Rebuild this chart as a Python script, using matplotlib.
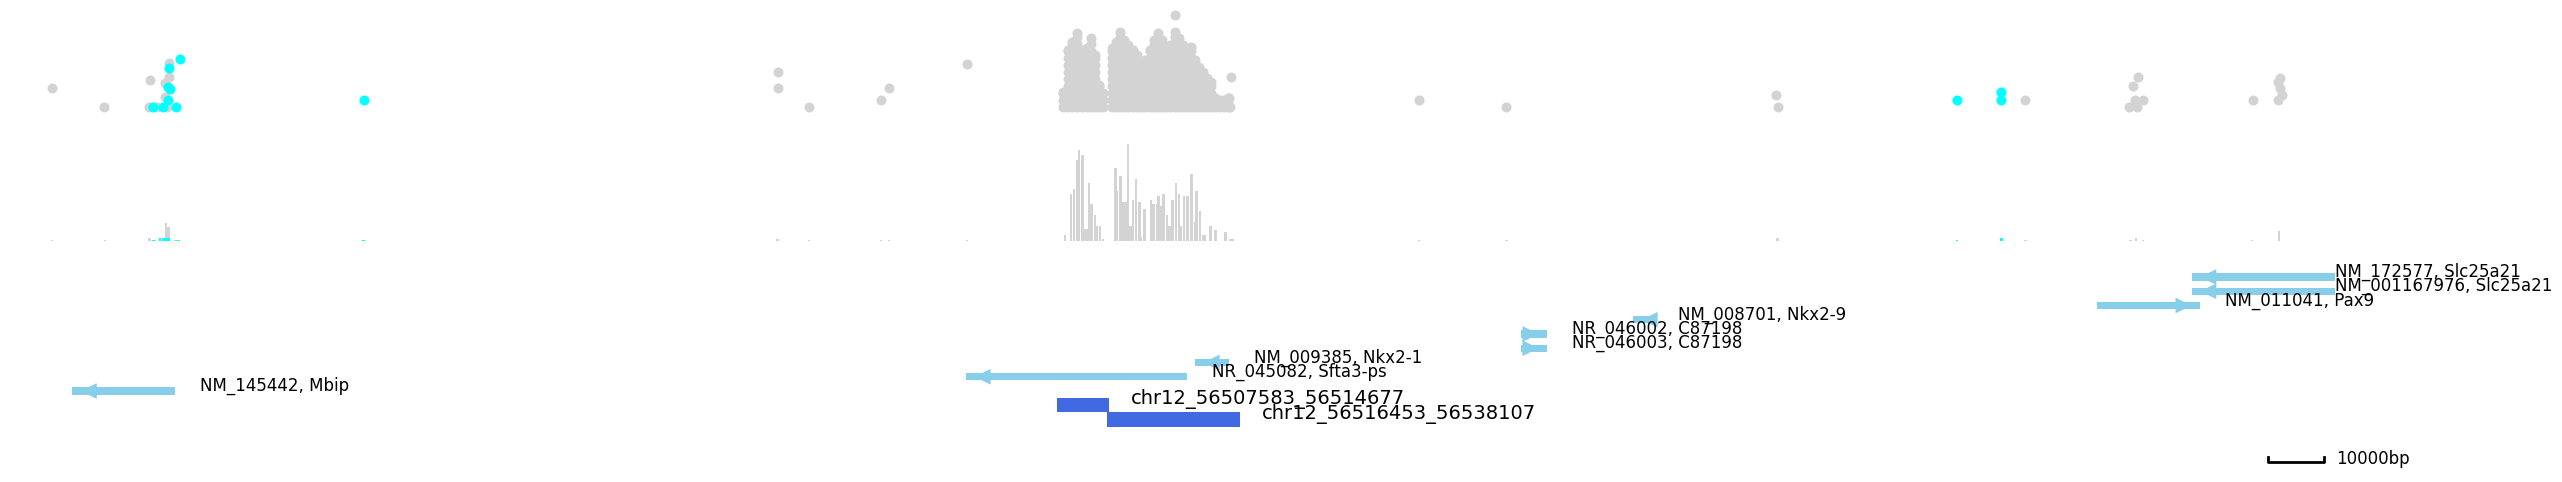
import matplotlib
matplotlib.use("Agg")
import matplotlib.pyplot as plt
from matplotlib.patches import Polygon
import numpy as np

# -----------------------------------------------------------------------------
# Locus window (chr12)
# -----------------------------------------------------------------------------
view_start = 56318380
view_end = 56736300          # right edge of the gene window
plot_right = 56776978        # extra room on the right for the labels

# --- dot track: isolated sites (position, score) ---
grey_pos = [56327700, 56337000, 56345200, 56345100, 56346500, 56348300, 56347900,
            56347900, 56348600, 56348600, 56457600, 56457600, 56463200, 56476100,
            56477500, 56491500, 56572400, 56588000, 56636300, 56636600, 56680900,
            56701100, 56700200, 56700500, 56702000, 56699500, 56700900, 56721700,
            56726500, 56726100, 56726500, 56726900, 56726100,
            56528700, 56538700, 56538600, 56538400]
grey_score = [3.7, 1.0, 4.9, 1.0, 1.0, 1.0, 4.4,
              2.4, 7.3, 5.3, 6.0, 3.7, 1.0, 2.0,
              3.7, 7.1, 2.0, 1.0, 2.7, 1.0, 2.0,
              5.3, 4.0, 2.0, 2.0, 1.0, 1.0, 2.0,
              5.1, 4.6, 3.7, 2.7, 2.0,
              14.1, 5.3, 1.0, 2.3]

cyan_pos = [56350600, 56348600, 56348500, 56348800, 56348500, 56345800, 56347600,
            56349900, 56383500, 56668700, 56676600, 56676600]
cyan_score = [7.9, 6.6, 3.9, 3.6, 2.0, 1.0, 1.0,
              1.0, 2.0, 2.0, 3.1, 2.0]

# --- dot track: dense peak, stacked sites per column (position, top score) ---
peak_pos = [56508700, 56509600, 56510300, 56511200, 56512100, 56513000, 56513700,
            56514400, 56515100, 56515800, 56517400, 56518100, 56518900, 56519600,
            56520300, 56521200, 56521900, 56522600, 56523300, 56524200, 56524900,
            56525700, 56526400, 56527100, 56527800, 56528700, 56529400, 56530100,
            56530900, 56531600, 56532300, 56533000, 56533700, 56534400, 56535100,
            56535900, 56536800, 56537500, 56538200]
peak_top = [3.1, 9.1, 10.3, 11.6, 9.1, 9.4, 10.9,
            8.4, 4.1, 3.0, 9.4, 10.3, 11.7, 10.6,
            9.9, 9.1, 8.4, 7.4, 7.7, 9.1, 10.6,
            11.6, 10.6, 9.1, 9.9, 11.7, 10.9, 9.9,
            9.1, 9.6, 7.7, 6.7, 6.0, 5.1, 4.6,
            2.3, 2.0, 2.0, 2.3]

# --- coverage track (500 bp bins) ---
cov_pos = [56327700, 56337200, 56345200, 56346100, 56348100, 56348600, 56383500,
           56457600, 56463200, 56476100, 56477500, 56491500,
           56509000, 56510100, 56510600, 56511200, 56511500, 56512100, 56512600,
           56513000, 56513300, 56513800, 56514400, 56514700, 56515300, 56515800,
           56518000, 56518300, 56518900, 56519400, 56519800, 56520300, 56520800,
           56521200, 56521700, 56522300, 56522600, 56523200, 56524400, 56524900,
           56525500, 56525800, 56526200, 56526700, 56527300, 56527600, 56528000,
           56528300, 56528900, 56529400, 56529800, 56530300, 56530900, 56531700,
           56532300, 56532600, 56533200, 56533700, 56534100, 56535000, 56536000,
           56537800, 56538600, 56539100,
           56572400, 56588000, 56636500, 56680900, 56699700, 56700700, 56702000,
           56721500, 56726300]
cov_val = [1.5, 1.5, 3, 1.5, 18, 14, 1.5,
           2, 1, 1, 1, 1,
           6, 47, 52, 81, 91, 86, 12,
           12, 58, 37, 26, 15, 15, 2,
           73, 50, 65, 39, 39, 97, 15,
           41, 62, 39, 4, 32, 41, 37,
           37, 45, 35, 47, 26, 15, 15,
           41, 58, 47, 15, 45, 45, 67,
           19, 50, 30, 6, 6, 15, 11,
           9, 2, 2,
           1.5, 1.5, 3, 1, 1.5, 3, 1.5,
           1.5, 10]

cov_cyan_pos = [56345900, 56347000, 56347600, 56348100, 56348600, 56349900, 56350400,
                56383500, 56668700, 56676600]
cov_cyan_val = [1.5, 3, 3, 3, 3, 1.5, 1.5, 1.5, 1.5, 3]

# --- gene models ---
gene_names = ["NM_172577, Slc25a21", "NM_001167976, Slc25a21", "NM_011041, Pax9",
              "NM_008701, Nkx2-9", "NR_046002, C87198", "NR_046003, C87198",
              "NM_009385, Nkx2-1", "NR_045082, Sfta3-ps", "NM_145442, Mbip"]
gene_start = [56710700, 56710700, 56693700, 56610700, 56590600, 56590600,
              56532300, 56491300, 56331300]
gene_end = [56736300, 56736300, 56712200, 56614300, 56595300, 56595300,
            56538400, 56530900, 56349700]
gene_strand = ["-", "-", "+", "-", "+", "+", "-", "-", "-"]

# --- query regions ---
region_names = ["chr12_56507583_56514677", "chr12_56516453_56538107"]
region_start = [56507583, 56516453]
region_end = [56514677, 56538107]

scale_len = 10000

# -----------------------------------------------------------------------------
W, H = 2562, 482
fig = plt.figure(figsize=(W / 100, H / 100), dpi=100)


def band(top, bottom):
    ax = fig.add_axes([0, 1 - bottom / H, 1, (bottom - top) / H])
    ax.set_xlim(view_start, plot_right)
    ax.axis("off")
    return ax


# Dot track
ax_dot = band(0, 125)
px_x, px_y = [], []
for p, t in zip(peak_pos, peak_top):
    levels = list(np.arange(1.0, t, 1.0)) + [t]
    px_x += [p] * len(levels)
    px_y += levels
ax_dot.scatter(px_x, px_y, s=52, color="lightgrey", linewidths=0)
ax_dot.scatter(grey_pos, grey_score, s=52, color="lightgrey", linewidths=0)
ax_dot.scatter(cyan_pos, cyan_score, s=52, color="cyan", linewidths=0, zorder=3)
ax_dot.set_ylim(-11 / 7, 114 / 7)

# Coverage track
ax_cov = band(130, 241)
ax_cov.bar(cov_pos, cov_val, width=480, color="lightgrey", linewidth=0)
ax_cov.bar(cov_cyan_pos, cov_cyan_val, width=480, color="cyan", linewidth=0, zorder=3)
ax_cov.set_ylim(0, 111)

# Gene track
ax_gene = band(250, 482)
ax_gene.set_ylim(14.386, -1.895)
gene_color = "skyblue"
tip_inset, head_len = 1500, 2900
for row, (name, s, e, strand) in enumerate(zip(gene_names, gene_start, gene_end, gene_strand)):
    ax_gene.barh(row, e - s, left=s, height=0.5, color=gene_color, linewidth=0)
    if strand == "+":
        tip = e - tip_inset
        base = tip - head_len
    else:
        tip = s + tip_inset
        base = tip + head_len
    ax_gene.add_patch(Polygon([[base, row - 0.55], [tip, row], [base, row + 0.55]],
                              closed=True, color=gene_color, linewidth=0))
    ax_gene.text(min(e + 4400, view_end), row - 0.35, name, fontsize=12,
                 va="center", ha="left")

box_pad = 2300
first_box = len(gene_names)
for i, (name, s, e) in enumerate(zip(region_names, region_start, region_end)):
    row = first_box + i
    ax_gene.barh(row, e - s + box_pad, left=s, height=1.0, color="royalblue", linewidth=0)
    ax_gene.text(e + box_pad + 3900, row - 0.42, name, fontsize=14, va="center", ha="left")

# Scale bar
sb_row = 13
sb_end = view_end - 2000
sb_start = sb_end - scale_len
ax_gene.plot([sb_start, sb_start, sb_end, sb_end],
             [sb_row - 0.35, sb_row, sb_row, sb_row - 0.35], color="black", lw=2)
ax_gene.text(sb_end + 2300, sb_row - 0.2, f"{scale_len}bp", fontsize=12,
             va="center", ha="left")

fig.savefig("out.png", dpi=100)
